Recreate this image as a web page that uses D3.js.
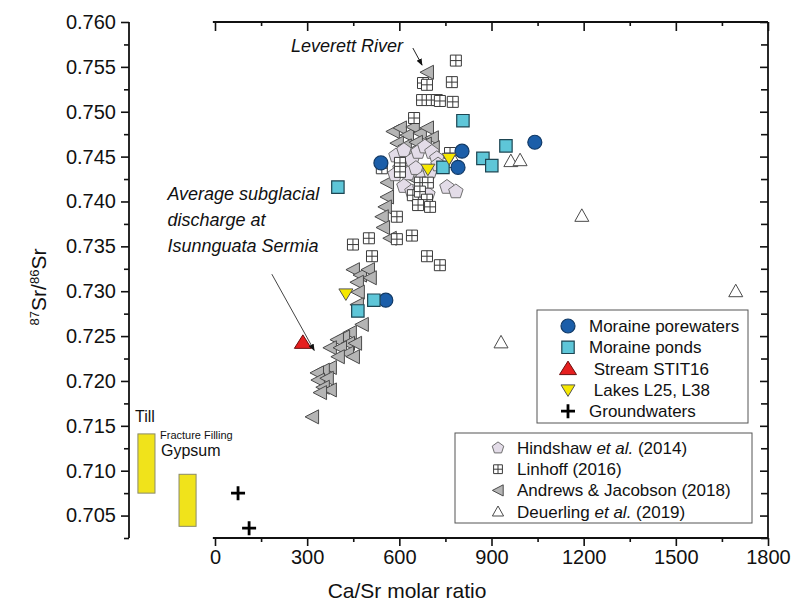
<!DOCTYPE html>
<html>
<head>
<meta charset="utf-8">
<script src="https://cdn.jsdelivr.net/npm/d3@7"></script>
<style>
  body { margin: 0; background: #fff; }
  svg text { font-family: "Liberation Sans", Arial, sans-serif; fill: #111; }
</style>
</head>
<body>
<div id="chart"></div>
<script>
// ---- data (Ca/Sr molar ratio, 87Sr/86Sr) ----
var porewaters = [[540,0.7443],[556,0.7290],[791,0.7438],[804,0.7456],[1041,0.7466]];
var ponds = [[400,0.7416],[465,0.7278],[517,0.7290],[742,0.7438],[807,0.7490],[872,0.7448],[901,0.7440],[947,0.7462]];
var stream = [[286,0.7243]];
var lakes = [[426,0.7297],[693,0.7436],[762,0.7448]];
var groundwaters = [[75,0.7075],[111,0.7036]];
var deuerling = [[781,0.7444],[931,0.7243],[963,0.7445],[993,0.7446],[1194,0.7384],[1695,0.7300]];
var hindshaw = [[589,0.7451],[615,0.7457],[641,0.7446],[661,0.7455],[683,0.7461],[706,0.7455],[722,0.7448],
    [602,0.7437],[628,0.7431],[654,0.7437],[677,0.7426],[700,0.7433],[615,0.7417],[641,0.7411],[667,0.7415],
    [693,0.7408],[661,0.7402],[726,0.7441],[755,0.7416],[784,0.7411],[586,0.7430]];
var linhoff = [[784,0.7557],[771,0.7533],[677,0.7532],[690,0.7530],[674,0.7513],[706,0.7513],[722,0.7513],
    [732,0.7512],[774,0.7511],[648,0.7493],[765,0.7454],[543,0.7437],[602,0.7443],[602,0.7433],[667,0.7421],
    [693,0.7421],[644,0.7407],[667,0.7411],[690,0.7402],[700,0.7394],[661,0.7396],[592,0.7383],[501,0.7359],
    [592,0.7358],[641,0.7362],[449,0.7352],[511,0.7339],[690,0.7339],[732,0.7329]];
var andrews = [[690,0.7544],[579,0.7478],[602,0.7482],[625,0.7474],[644,0.7483],[667,0.7476],[690,0.7482],
    [706,0.7471],[592,0.7465],[618,0.7462],[654,0.7466],[683,0.7464],[709,0.7460],[635,0.7455],[625,0.7432],
    [644,0.7426],[560,0.7421],[560,0.7405],[553,0.7394],[543,0.7383],[547,0.7371],[569,0.7359],[449,0.7324],
    [472,0.7318],[498,0.7324],[504,0.7315],[462,0.7310],[465,0.7299],[462,0.7285],[478,0.7263],[439,0.7254],
    [417,0.7249],[397,0.7246],[433,0.7242],[456,0.7242],[374,0.7237],[407,0.7237],[430,0.7231],[449,0.7227],
    [400,0.7227],[374,0.7215],[351,0.7212],[332,0.7209],[335,0.7201],[364,0.7203],[351,0.7193],[374,0.7190],
    [342,0.7187],[316,0.7160]];
// end-member ranges drawn left of the x axis
var rangeCats = ["Till", "Gypsum"];
var rangeLo = [0.7075, 0.7038];
var rangeHi = [0.7141, 0.7096];
var xTicks = [0, 300, 600, 900, 1200, 1500, 1800];
var yTicks = [0.705, 0.710, 0.715, 0.720, 0.725, 0.730, 0.735, 0.740, 0.745, 0.750, 0.755, 0.760];

var width = 795, height = 603;

var svg = d3.select("#chart").append("svg")
    .attr("width", width)
    .attr("height", height);

var x = d3.scaleLinear().domain([0, 1800]).range([215, 768]);
var y = d3.scaleLinear().domain([0.7025, 0.760]).range([538, 22]);
var xr = d3.scaleBand().domain(rangeCats).range([126, 208]).paddingInner(0.585).paddingOuter(0.29);

var xMinor = d3.range(150, 1800, 300);
var yMinor = d3.range(0.7025, 0.760, 0.005);

// ---- axes ----
function styleAxis(g) {
    g.select(".domain").remove();
    g.selectAll("line").attr("stroke", "#111").attr("stroke-width", 1.6);
}

// bottom
svg.append("g").attr("transform", "translate(0,538)")
    .call(d3.axisBottom(x).tickValues(xTicks).tickSize(8).tickPadding(4).tickFormat(d3.format("d")))
    .call(styleAxis)
    .selectAll("text").style("font-size", "20px").attr("fill", "#111").style("font-family", "Liberation Sans, Arial, sans-serif");
svg.append("g").attr("transform", "translate(0,538)")
    .call(d3.axisBottom(x).tickValues(xMinor).tickSize(4).tickFormat(""))
    .call(styleAxis);
// top
svg.append("g").attr("transform", "translate(0,22)")
    .call(d3.axisTop(x).tickValues(xTicks).tickSize(-9).tickFormat(""))
    .call(styleAxis);
svg.append("g").attr("transform", "translate(0,22)")
    .call(d3.axisTop(x).tickValues(xMinor).tickSize(-4).tickFormat(""))
    .call(styleAxis);
// left
svg.append("g").attr("transform", "translate(129,0)")
    .call(d3.axisLeft(y).tickValues(yTicks).tickSize(8).tickPadding(5).tickFormat(d3.format(".3f")))
    .call(styleAxis)
    .selectAll("text").style("font-size", "20px").attr("fill", "#111").style("font-family", "Liberation Sans, Arial, sans-serif");
svg.append("g").attr("transform", "translate(129,0)")
    .call(d3.axisLeft(y).tickValues(yMinor).tickSize(5).tickFormat(""))
    .call(styleAxis);
// right
svg.append("g").attr("transform", "translate(768,0)")
    .call(d3.axisRight(y).tickValues(yTicks).tickSize(-8).tickFormat(""))
    .call(styleAxis);
svg.append("g").attr("transform", "translate(768,0)")
    .call(d3.axisRight(y).tickValues(yMinor).tickSize(-7).tickFormat(""))
    .call(styleAxis);

var axisLines = [
    [x(-7), y(0.7025), x(1800), y(0.7025)],
    [x(-7), y(0.760), x(1800), y(0.760)],
    [x(1800), y(0.760), x(1800), y(0.7025)],
    [129, y(0.760), 129, y(0.7025)]
];
svg.selectAll(".axisline").data(axisLines).enter().append("line")
    .attr("x1", function(d) { return d[0]; }).attr("y1", function(d) { return d[1]; })
    .attr("x2", function(d) { return d[2]; }).attr("y2", function(d) { return d[3]; })
    .attr("stroke", "#111").attr("stroke-width", 1.8);

// axis titles
svg.append("text")
    .attr("x", 407).attr("y", 598)
    .attr("text-anchor", "middle")
    .style("font-size", "21px")
    .text("Ca/Sr molar ratio");

var yt = svg.append("text")
    .attr("transform", "translate(46,287) rotate(-90)")
    .attr("text-anchor", "middle")
    .style("font-size", "21px");
yt.append("tspan").attr("baseline-shift", "super").style("font-size", "13px").text("87");
yt.append("tspan").text("Sr/");
yt.append("tspan").attr("baseline-shift", "super").style("font-size", "13px").text("86");
yt.append("tspan").text("Sr");

// ---- Till / gypsum ranges ----
svg.selectAll(".range").data(rangeCats).enter().append("rect")
    .attr("class", "range")
    .attr("x", function(d) { return xr(d); })
    .attr("width", xr.bandwidth())
    .attr("y", function(d, i) { return y(rangeHi[i]); })
    .attr("height", function(d, i) { return y(rangeLo[i]) - y(rangeHi[i]); })
    .attr("fill", "#f0e31b").attr("stroke", "#8a8a6a").attr("stroke-width", 1);

svg.append("text").attr("x", 135).attr("y", 422).style("font-size", "16px").text("Till");
svg.append("text").attr("x", 160).attr("y", 439).style("font-size", "11px").attr("fill", "#333").text("Fracture Filling");
svg.append("text").attr("x", 161).attr("y", 456).style("font-size", "16px").text("Gypsum");

// ---- marker shapes ----
function pentagon(r) {
    var p = [];
    for (var k = 0; k < 5; k++) {
        var a = -Math.PI / 2 + k * 2 * Math.PI / 5;
        p.push((r * Math.cos(a)).toFixed(2) + "," + (r * Math.sin(a)).toFixed(2));
    }
    return "M" + p.join("L") + "Z";
}
function shape(kind, s) {
    s = s || 1;
    switch (kind) {
        case "circle": return d3.symbol(d3.symbolCircle, Math.PI * 49 * s * s)();
        case "square": var h = 6.2 * s; return "M" + (-h) + "," + (-h) + "h" + 2 * h + "v" + 2 * h + "h" + (-2 * h) + "Z";
        case "grid": var g = 5.5 * s; return "M" + (-g) + "," + (-g) + "h" + 2 * g + "v" + 2 * g + "h" + (-2 * g) + "Z" +
            "M0," + (-g) + "v" + 2 * g + "M" + (-g) + ",0h" + 2 * g;
        case "pent": return pentagon(7.6 * s);
        case "left": return "M" + (-7 * s) + ",0L" + (6.5 * s) + "," + (-7 * s) + "L" + (6.5 * s) + "," + (7 * s) + "Z";
        case "up": return "M0," + (-7 * s) + "L" + (7 * s) + "," + (5.5 * s) + "L" + (-7 * s) + "," + (5.5 * s) + "Z";
        case "bigup": return "M0," + (-7.5 * s) + "L" + (8.5 * s) + "," + (6 * s) + "L" + (-8.5 * s) + "," + (6 * s) + "Z";
        case "down": return "M" + (-7 * s) + "," + (-5 * s) + "L" + (7 * s) + "," + (-5 * s) + "L0," + (6.5 * s) + "Z";
        case "plus": return "M" + (-7 * s) + ",0h" + 14 * s + "M0," + (-7 * s) + "v" + 14 * s;
    }
}

var series = [
    { name: "andrews", data: andrews, kind: "left", fill: "#b5b5b5", stroke: "#4a4a4a", sw: 1 },
    { name: "hindshaw", data: hindshaw, kind: "pent", fill: "#e3dce8", stroke: "#6e6e6e", sw: 1 },
    { name: "linhoff", data: linhoff, kind: "grid", fill: "#ffffff", stroke: "#3a3a3a", sw: 1 },
    { name: "deuerling", data: deuerling, kind: "up", fill: "#ffffff", stroke: "#4a4a4a", sw: 1 },
    { name: "porewaters", data: porewaters, kind: "circle", fill: "#1b5ea9", stroke: "#123a66", sw: 1.2 },
    { name: "ponds", data: ponds, kind: "square", fill: "#5ec6d8", stroke: "#1d4552", sw: 1.2 },
    { name: "stream", data: stream, kind: "bigup", fill: "#e51f1f", stroke: "#6b1010", sw: 1 },
    { name: "lakes", data: lakes, kind: "down", fill: "#f6e800", stroke: "#555", sw: 1 },
    { name: "groundwaters", data: groundwaters, kind: "plus", fill: "none", stroke: "#000", sw: 2.8 }
];

series.forEach(function(s) {
    svg.append("g").attr("class", s.name).selectAll("path")
        .data(s.data).enter().append("path")
        .attr("transform", function(d) { return "translate(" + x(d[0]) + "," + y(d[1]) + ")"; })
        .attr("d", shape(s.kind))
        .attr("fill", s.fill).attr("stroke", s.stroke).attr("stroke-width", s.sw);
});

// ---- annotations ----
svg.append("defs").append("marker")
    .attr("id", "arrow").attr("viewBox", "0 0 10 10").attr("refX", 9).attr("refY", 5)
    .attr("markerWidth", 7).attr("markerHeight", 7).attr("orient", "auto")
    .append("path").attr("d", "M0,1L10,5L0,9Z").attr("fill", "#111");

svg.append("text")
    .attr("x", x(612)).attr("y", y(0.75666))
    .attr("text-anchor", "end")
    .style("font-size", "18px").style("font-style", "italic")
    .text("Leverett River");
svg.append("line")
    .attr("x1", x(644)).attr("y1", y(0.7571)).attr("x2", x(674)).attr("y2", y(0.7552))
    .attr("stroke", "#222").attr("stroke-width", 1).attr("marker-end", "url(#arrow)");

var subLines = ["Average subglacial", "discharge at", "Isunnguata Sermia"];
svg.selectAll(".sublabel").data(subLines).enter().append("text")
    .attr("x", x(-155))
    .attr("y", function(d, i) { return y(0.7402) + i * 26; })
    .style("font-size", "18px").style("font-style", "italic")
    .text(function(d) { return d; });
svg.append("line")
    .attr("x1", x(185)).attr("y1", y(0.7319)).attr("x2", x(323)).attr("y2", y(0.7234))
    .attr("stroke", "#444").attr("stroke-width", 1).attr("marker-end", "url(#arrow)");

// ---- legends ----
var leg1 = [
    { label: "Moraine porewaters", kind: "circle", fill: "#1b5ea9", stroke: "#123a66", sw: 1.2 },
    { label: "Moraine ponds", kind: "square", fill: "#5ec6d8", stroke: "#1d4552", sw: 1.2 },
    { label: " Stream STIT16", kind: "bigup", fill: "#e51f1f", stroke: "#6b1010", sw: 1 },
    { label: " Lakes L25, L38", kind: "down", fill: "#f6e800", stroke: "#555", sw: 1 },
    { label: "Groundwaters", kind: "plus", fill: "none", stroke: "#000", sw: 2.8 }
];
var leg2 = [
    { label: ["Hindshaw ", "et al.", " (2014)"], kind: "pent", fill: "#e3dce8", stroke: "#6e6e6e", sw: 1 },
    { label: ["Linhoff (2016)"], kind: "grid", fill: "#fff", stroke: "#3a3a3a", sw: 1 },
    { label: ["Andrews & Jacobson (2018)"], kind: "left", fill: "#b5b5b5", stroke: "#4a4a4a", sw: 1 },
    { label: ["Deuerling ", "et al.", " (2019)"], kind: "up", fill: "#fff", stroke: "#4a4a4a", sw: 1 }
];

svg.append("rect").attr("x", 537).attr("y", 310).attr("width", 211).attr("height", 113)
    .attr("fill", "#fff").attr("stroke", "#555").attr("stroke-width", 1);
var l1 = svg.selectAll(".leg1").data(leg1).enter().append("g")
    .attr("transform", function(d, i) { return "translate(568," + (326 + i * 21.3) + ")"; });
l1.append("path").attr("d", function(d) { return shape(d.kind); })
    .attr("fill", function(d) { return d.fill; }).attr("stroke", function(d) { return d.stroke; })
    .attr("stroke-width", function(d) { return d.sw; });
l1.append("text").attr("x", 21).attr("y", 6).style("font-size", "17px").style("white-space", "pre")
    .text(function(d) { return d.label; });

svg.append("rect").attr("x", 455).attr("y", 433).attr("width", 297).attr("height", 90)
    .attr("fill", "#fff").attr("stroke", "#555").attr("stroke-width", 1);
var l2 = svg.selectAll(".leg2").data(leg2).enter().append("g")
    .attr("transform", function(d, i) { return "translate(498," + (448 + i * 21.2) + ")"; });
l2.append("path").attr("d", function(d) { return shape(d.kind, 0.8); })
    .attr("fill", function(d) { return d.fill; }).attr("stroke", function(d) { return d.stroke; })
    .attr("stroke-width", function(d) { return d.sw; });
var t2 = l2.append("text").attr("x", 19).attr("y", 6).style("font-size", "17px").style("white-space", "pre");
t2.selectAll("tspan").data(function(d) { return d.label; }).enter().append("tspan")
    .style("font-style", function(d) { return d === "et al." ? "italic" : "normal"; })
    .text(function(d) { return d; });
</script>
</body>
</html>
